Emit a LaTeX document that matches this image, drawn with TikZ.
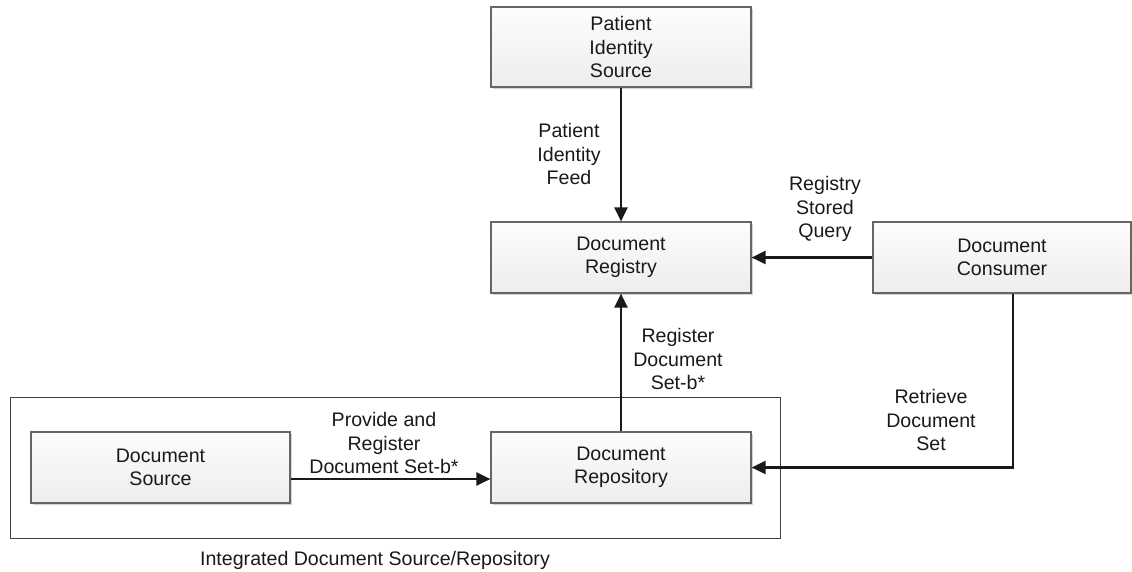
\documentclass[tikz,border=0pt]{standalone}
\usepackage{fontspec}
\setmainfont{Liberation Sans}
\usetikzlibrary{shadows,arrows.meta}
\begin{document}
\begin{tikzpicture}[x=1pt,y=-1pt,
  every node/.style={font=\fontsize{19.6}{23.5}\selectfont, text=black!90, align=center, inner sep=0pt},
  box/.style={draw=black!60, line width=1.2pt, top color=gray!2, bottom color=gray!14,
    minimum width=260pt, minimum height=71pt,
    drop shadow={shadow xshift=1.5pt, shadow yshift=-1.5pt, opacity=0.35, fill=black!50}},
  flow/.style={line width=2.2pt, draw=black!90, -{Triangle[length=14pt,width=13pt]}},
  lbl/.style={}]
  \useasboundingbox (0,0) rectangle (1132,571);

  % enclosing group
  \draw[draw=black!75, line width=1pt] (10,397) rectangle (780,538);
  \node (grouplbl) at (375,560) {Integrated Document Source/Repository};

  % actors
  \node[box, minimum height=80pt] (pis) at (621,47) {Patient\\Identity\\Source};
  \node[box] (reg) at (621,257.5) {Document\\Registry};
  \node[box, minimum width=258pt] (con) at (1002,257.5) {Document\\Consumer};
  \node[box, minimum width=259pt] (src) at (160.5,467.5) {Document\\Source};
  \node[box] (rep) at (621,467.5) {Document\\Repository};

  % transactions
  \draw[flow] (pis) -- (reg);
  \node[lbl] (feed) at (569,154) {Patient\\Identity\\Feed};

  \draw[flow] (con) -- (reg);
  \node[lbl] (query) at (825,209) {Registry\\Stored\\Query};

  \coordinate (bend) at (1013,467.5);
  \draw[flow] (con.south -| bend) -- (bend) -- (rep.east);
  \node[lbl] (retrieve) at (931,420) {Retrieve\\Document\\Set};

  \draw[flow] (rep) -- (reg);
  \node[lbl] (register) at (678,359) {Register\\Document\\Set-b*};

  \draw[flow] ([yshift=-11.5pt]src.east) -- ([yshift=-11.5pt]rep.west);
  \node[lbl] (provide) at (384,443) {Provide and\\Register\\Document Set-b*};
\end{tikzpicture}
\end{document}
